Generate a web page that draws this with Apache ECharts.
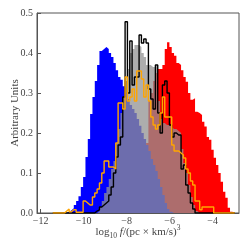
<!DOCTYPE html>
<html><head><meta charset="utf-8">
<script src="https://cdn.jsdelivr.net/npm/echarts@6/dist/echarts.min.js"></script>
<style>html,body{margin:0;padding:0;background:#fff}#c{width:249px;height:249px}</style>
</head><body><div id="c"></div>
<script>
// histogram bins: left edge of bin i = binStart + i*binWidth
var binStart = -11.434;
var binWidth = 0.1085;
var xTicks = [-12, -10, -8, -6, -4];
var yTicks = [0, 0.1, 0.2, 0.3, 0.4, 0.5];
var blueVals = [0,0,0,0,0,0,0.003,0.007,0.012,0.02,0.03,0.042,0.065,0.09,0.14,0.185,0.2475,0.29,0.33,0.37,0.405,0.41,0.415,0.41,0.40,0.39,0.375,0.357,0.34,0.333,0.317,0.30,0.285,0.27,0.26,0.25,0.235,0.218,0.2,0.185,0.17,0.155,0.135,0.12,0.105,0.085,0.065,0.045,0.025,0.01,0.003,0,0,0,0,0,0,0,0,0,0,0,0,0,0,0,0,0,0,0,0,0,0,0,0,0,0,0];
var redVals = [0,0,0,0,0,0,0,0,0,0,0,0,0,0,0,0,0,0,0,0,0,0,0,0,0,0,0,0,0,0,0.005,0.01,0.02,0.03,0.045,0.06,0.08,0.1,0.12,0.14,0.175,0.28,0.30,0.33,0.35,0.36,0.36,0.37,0.41,0.427,0.415,0.40,0.393,0.375,0.37,0.357,0.34,0.328,0.30,0.283,0.287,0.253,0.25,0.245,0.228,0.216,0.19,0.183,0.158,0.138,0.12,0.1,0.078,0.053,0.038,0.013,0.003,0];
var grayVals = [0,0,0,0,0,0,0,0,0,0,0,0,0,0,0,0,0,0,0,0.005,0.015,0.03,0.05,0.065,0.085,0.11,0.13,0.175,0.21,0.25,0.29,0.33,0.36,0.40,0.41,0.42,0.42,0.415,0.40,0.39,0.37,0.37,0.365,0.365,0.37,0.28,0.235,0.225,0.22,0.22,0.215,0.21,0.21,0.205,0.2,0.16,0.125,0.1,0.07,0.04,0.02,0.005,0,0,0,0,0,0,0,0,0,0,0,0,0,0,0,0];
var blackVals = [0,0,0,0,0,0,0,0,0,0,0,0,0,0,0,0,0,0,0.005,0.008,0.015,0.02,0.025,0.03,0.045,0.065,0.1,0.14,0.17,0.19,0.29,0.478,0.30,0.43,0.32,0.34,0.34,0.445,0.425,0.435,0.425,0.31,0.285,0.26,0.37,0.25,0.2,0.32,0.33,0.30,0.22,0.19,0.2,0.195,0.195,0.11,0.12,0.07,0.05,0.025,0.01,0,0,0,0,0,0,0,0,0,0,0,0,0,0,0,0,0];
var orangeVals = [0,0,0,0,0,0.005,0.01,0.003,0.008,0.008,0.002,0.002,0.002,0.03,0.025,0.02,0.02,0.04,0.05,0.06,0.075,0.1,0.13,0.13,0.115,0.115,0.11,0.175,0.275,0.275,0.26,0.34,0.28,0.29,0.31,0.28,0.355,0.355,0.335,0.29,0.32,0.28,0.24,0.22,0.21,0.22,0.25,0.29,0.24,0.24,0.24,0.17,0.155,0.155,0.15,0.145,0.1375,0.11,0.1,0.08,0.07,0.03,0.03,0.008,0.015,0.015,0.015,0.015,0.015,0,0,0,0,0,0,0,0,0];

function steps(vals){
  var d = [[binStart, 0]];
  for (var i = 0; i < vals.length; i++) d.push([binStart + i*binWidth, vals[i]]);
  d.push([binStart + vals.length*binWidth, 0]);
  return d;
}
var font = 'Liberation Serif';
function filled(name, vals, color, z){
  return {name:name, type:'line', step:'end', symbol:'none', data:steps(vals), z:z,
    lineStyle:{width:0}, areaStyle:{color:color, opacity:1}, silent:true};
}
function outline(name, vals, color, z){
  return {name:name, type:'line', step:'end', symbol:'none', data:steps(vals), z:z,
    lineStyle:{width:1.4, color:color}, silent:true};
}
var chart = echarts.init(document.getElementById('c'), null, {renderer:'canvas'});
chart.setOption({
  animation:false,
  grid:{left:37, right:10, top:13, bottom:36, outerBoundsMode:'none', containLabel:false,
    show:true, borderColor:'#555', borderWidth:1, backgroundColor:'transparent'},
  xAxis:{type:'value', min:-12.17, max:-2.77,
    name:'{a|log}{s|10}{i| f}{a|/(pc × km/s)}{p|3}', nameLocation:'middle', nameGap:11, nameMoveOverlap:false,
    nameTextStyle:{rich:{
      a:{fontFamily:font, fontSize:11, color:'#444', lineHeight:16},
      i:{fontFamily:font, fontSize:11, fontStyle:'italic', color:'#444', lineHeight:16},
      s:{fontFamily:font, fontSize:7.5, color:'#444', lineHeight:8, verticalAlign:'bottom'},
      p:{fontFamily:font, fontSize:7.5, color:'#444', lineHeight:8, verticalAlign:'top'}
    }},
    axisLine:{show:true, lineStyle:{color:'#555'}},
    axisTick:{show:true, inside:true, length:4, customValues:xTicks, lineStyle:{color:'#555'}},
    axisLabel:{customValues:xTicks, fontFamily:font, fontSize:10, color:'#444', margin:3,
      formatter:function(v){return (v<0?'\u2212':'')+Math.abs(v);}},
    splitLine:{show:false}},
  yAxis:{type:'value', min:0, max:0.5, interval:0.1,
    name:'Arbitrary Units', nameLocation:'middle', nameGap:16, nameMoveOverlap:false,
    nameTextStyle:{fontFamily:font, fontSize:11, color:'#444'},
    axisLine:{show:true, lineStyle:{color:'#555'}},
    axisTick:{show:true, inside:true, length:4, lineStyle:{color:'#555'}},
    axisLabel:{fontFamily:font, fontSize:10, color:'#444', margin:4,
      formatter:function(v){return v.toFixed(1);}},
    splitLine:{show:false}},
  series:[
    filled('red', redVals, '#ff0000', 1),
    filled('blue', blueVals, '#0000ff', 2),
    filled('gray', grayVals, 'rgba(145,145,145,0.75)', 3),
    outline('black', blackVals, '#000000', 4),
    outline('orange', orangeVals, '#ffa500', 5)
  ]
});
</script></body></html>
